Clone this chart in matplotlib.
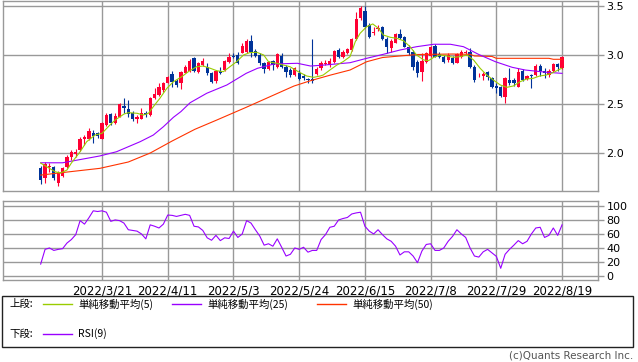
import matplotlib
matplotlib.use('Agg')
import matplotlib.pyplot as plt
from matplotlib.patches import Rectangle

# daily candles (index 0..119)
opens = [1.845, 1.737, 1.85, 1.849, 1.685, 1.76, 1.856, 1.952, 1.985, 2.027,
         2.137, 2.139, 2.201, 2.201, 2.139, 2.283, 2.395, 2.30, 2.368, 2.477,
         2.447, 2.409, 2.347, 2.344, 2.403, 2.385, 2.556, 2.59, 2.641, 2.716,
         2.805, 2.734, 2.71, 2.819, 2.836, 2.966, 2.829, 2.897, 2.88, 2.819,
         2.734, 2.836, 2.846, 2.928, 2.99, 3.0, 3.024, 3.034, 3.146, 3.044,
         3.0, 2.921, 2.856, 2.939, 2.88, 2.99, 2.88, 2.846, 2.795, 2.819,
         2.785, 2.751, 2.751, 2.805, 2.864, 2.912, 2.897, 2.931, 3.051, 2.983,
         3.024, 3.051, 3.164, 3.376, 3.451, 3.307, 3.222, 3.263, 3.29, 3.161,
         3.075, 3.126, 3.212, 3.187, 3.085, 3.034, 2.931, 2.823, 2.931, 2.99,
         3.095, 3.007, 2.983, 2.949, 2.966, 2.921, 2.983, 3.017, 3.034, 2.88,
         2.79, 2.788, 2.823, 2.761, 2.683, 2.669, 2.573, 2.744, 2.744, 2.675,
         2.839, 2.751, 2.79, 2.795, 2.887, 2.836, 2.795, 2.836, 2.905, 2.864]
highs = [1.866, 1.907, 1.893, 1.866, 1.811, 1.856, 1.975, 2.027, 2.034, 2.157,
         2.18, 2.252, 2.232, 2.211, 2.317, 2.403, 2.409, 2.406, 2.511, 2.556,
         2.539, 2.429, 2.385, 2.454, 2.429, 2.567, 2.659, 2.71, 2.726, 2.785,
         2.839, 2.751, 2.839, 2.897, 2.956, 2.983, 2.931, 2.966, 2.915, 2.829,
         2.846, 2.88, 2.949, 3.017, 3.017, 3.034, 3.12, 3.161, 3.205, 3.058,
         3.017, 2.931, 2.942, 2.949, 3.017, 3.024, 2.897, 2.864, 2.88, 2.846,
         2.805, 2.767, 3.161, 2.88, 2.939, 2.949, 2.966, 3.051, 3.075, 3.051,
         3.075, 3.171, 3.444, 3.502, 3.502, 3.325, 3.29, 3.307, 3.297, 3.181,
         3.161, 3.229, 3.263, 3.195, 3.102, 3.051, 2.949, 3.017, 3.034, 3.092,
         3.11, 3.034, 3.0, 3.017, 2.99, 3.017, 3.051, 3.051, 3.075, 2.897,
         2.812, 2.829, 2.836, 2.778, 2.71, 2.683, 2.778, 2.864, 2.761, 2.864,
         2.853, 2.795, 2.805, 2.908, 2.908, 2.864, 2.853, 2.921, 2.921, 2.99]
lows = [1.675, 1.691, 1.801, 1.72, 1.661, 1.75, 1.839, 1.924, 1.958, 2.02,
        2.078, 2.129, 2.101, 2.15, 2.136, 2.276, 2.288, 2.293, 2.362, 2.403,
        2.368, 2.327, 2.306, 2.341, 2.368, 2.378, 2.549, 2.583, 2.624, 2.71,
        2.675, 2.669, 2.649, 2.812, 2.829, 2.829, 2.819, 2.887, 2.795, 2.716,
        2.71, 2.805, 2.836, 2.915, 2.966, 2.908, 3.017, 3.024, 2.983, 2.983,
        2.897, 2.812, 2.846, 2.846, 2.864, 2.87, 2.772, 2.778, 2.785, 2.744,
        2.744, 2.716, 2.71, 2.795, 2.846, 2.897, 2.88, 2.915, 2.966, 2.972,
        3.007, 3.044, 3.154, 3.359, 3.273, 3.177, 3.205, 3.249, 3.154, 3.017,
        3.034, 3.12, 3.161, 3.079, 3.0, 2.846, 2.778, 2.737, 2.921, 2.983,
        2.976, 2.966, 2.915, 2.931, 2.908, 2.915, 2.966, 3.0, 2.864, 2.726,
        2.772, 2.744, 2.744, 2.659, 2.614, 2.573, 2.511, 2.693, 2.683, 2.669,
        2.737, 2.744, 2.659, 2.788, 2.785, 2.761, 2.778, 2.829, 2.836, 2.856]
closes = [1.719, 1.883, 1.86, 1.737, 1.794, 1.839, 1.952, 2.003, 2.009, 2.139,
          2.157, 2.221, 2.17, 2.175, 2.306, 2.385, 2.30, 2.378, 2.495, 2.462,
          2.395, 2.344, 2.368, 2.403, 2.385, 2.563, 2.60, 2.675, 2.71, 2.778,
          2.726, 2.693, 2.829, 2.88, 2.939, 2.839, 2.915, 2.939, 2.812, 2.726,
          2.836, 2.819, 2.939, 2.983, 2.98, 2.915, 3.095, 3.146, 3.034, 2.99,
          2.921, 2.856, 2.931, 2.897, 3.007, 2.88, 2.829, 2.795, 2.87, 2.751,
          2.761, 2.744, 2.737, 2.856, 2.915, 2.921, 2.939, 3.041, 2.983, 3.034,
          3.058, 3.161, 3.369, 3.478, 3.29, 3.187, 3.239, 3.28, 3.161, 3.085,
          3.143, 3.212, 3.171, 3.085, 3.017, 2.88, 2.812, 2.939, 3.024, 3.085,
          2.983, 2.983, 2.931, 3.0, 2.921, 3.007, 3.034, 3.03, 2.88, 2.744,
          2.80, 2.805, 2.772, 2.669, 2.659, 2.58, 2.761, 2.71, 2.71, 2.829,
          2.744, 2.785, 2.78, 2.887, 2.839, 2.812, 2.839, 2.905, 2.88, 2.976]

# moving averages (index, value)
ma5_x = [0, 2, 3.3, 4.5, 6, 7, 9, 10.5, 12.4, 14, 15.8, 17, 19, 20, 22, 23.4, 24.6,
         25.7, 27.2, 28.8, 30.3, 32.2, 33.7, 35.6, 37.1, 38.7, 40.2, 41.7, 43.2,
         44.7, 46.3, 47.7, 49.3, 50.9, 52, 53.9, 55.4, 56.9, 58.8, 60.7, 62.3,
         63.8, 64.5, 66, 67.6, 69, 70.6, 71.8, 72.9, 74.4, 75.8, 77.1, 78.2,
         79.8, 81.3, 82.8, 84.3, 85.8, 87.4, 88.5, 89.7, 91.2, 92.7, 94.2, 95.7,
         97.3, 98.8, 100.3, 101.8, 103.3, 104.9, 106.4, 107.9, 109.4, 110.9,
         112.4, 113.9, 115.4, 116.9, 118.9]
ma5_v = [1.893, 1.839, 1.804, 1.791, 1.822, 1.893, 2.009, 2.112, 2.18, 2.198, 2.283,
         2.334, 2.395, 2.409, 2.403, 2.385, 2.403, 2.47, 2.556, 2.659, 2.726, 2.778,
         2.829, 2.88, 2.887, 2.864, 2.839, 2.829, 2.88, 2.931, 3.0, 3.024, 3.028,
         3.0, 2.931, 2.915, 2.897, 2.88, 2.829, 2.785, 2.771, 2.785, 2.795, 2.846,
         2.897, 2.931, 2.983, 3.136, 3.222, 3.29, 3.318, 3.273, 3.205, 3.181,
         3.171, 3.146, 3.085, 3.0, 2.949, 2.942, 2.976, 3.0, 2.99, 2.976, 2.983,
         3.0, 2.949, 2.864, 2.795, 2.744, 2.693, 2.669, 2.683, 2.726, 2.754,
         2.761, 2.785, 2.795, 2.819, 2.864]
ma25_x = [0, 5, 13.5, 17.3, 22.7, 25.7, 28, 30.3, 32, 34.1, 37.9, 42.5, 46.9, 49.5,
          53.3, 58.6, 61.6, 64.7, 70.6, 74.4, 78.2, 82, 85.8, 89.7, 93.5, 96.5,
          100, 103.8, 107.6, 110.6, 115.5, 119]
ma25_v = [1.896, 1.896, 1.966, 2.009, 2.112, 2.18, 2.265, 2.362, 2.42, 2.511,
          2.608, 2.693, 2.812, 2.864, 2.908, 2.915, 2.887, 2.897, 2.921, 2.966,
          3.007, 3.051, 3.085, 3.11, 3.11, 3.085, 3.005, 2.931, 2.874, 2.846,
          2.823, 2.812]
ma50_x = [0, 6, 13.5, 20, 25, 30, 35.2, 40.2, 46.9, 51, 57.8, 61.6, 66.2, 70.6,
          74.4, 78, 82, 86, 94, 98, 99, 103, 104, 116, 117, 119]
ma50_v = [1.77, 1.801, 1.839, 1.904, 1.996, 2.119, 2.239, 2.334, 2.464, 2.546,
          2.682, 2.737, 2.795, 2.846, 2.931, 2.974, 2.99, 3.005, 3.01, 3.007,
          2.99, 2.985, 2.966, 2.966, 2.956, 2.956]

rsi = [17, 38, 40, 36.5, 38, 39, 47, 52, 59, 79,
       74, 83, 93, 92, 93, 91, 78, 80, 79, 75.5,
       66, 65, 64, 60, 53, 73, 71, 68.5, 74, 87,
       86.5, 85, 86.5, 88, 86.5, 71, 70, 65, 54.5, 51,
       58, 50.5, 54.5, 53.5, 64, 55, 60, 79, 75.5, 66,
       57, 44, 46, 42.5, 53, 41, 28.5, 31, 40, 38,
       41, 34, 36.5, 36.5, 52, 59, 69.5, 71, 80, 82,
       83.5, 88.5, 90, 91, 71, 64, 60, 66, 59, 53,
       49.5, 42.5, 30, 34.5, 34.5, 28.5, 19, 35.5, 45, 46,
       36.5, 36.5, 40, 49.5, 56.5, 66, 60, 55, 40, 28.5,
       27, 34.5, 38, 33, 28, 11, 31, 38, 44, 50.5,
       46, 49.5, 60, 68.5, 69.5, 55, 58, 68.5, 58, 73]

date_pos = [14, 29, 44, 59, 74, 89, 104, 119]
date_labels = ['2022/3/21', '2022/4/11', '2022/5/3', '2022/5/24',
               '2022/6/15', '2022/7/8', '2022/7/29', '2022/8/19']

UP, DOWN = '#ff0033', '#003399'
GRID = '#999999'
W, H = 638, 362

fig = plt.figure(figsize=(W / 100, H / 100), dpi=100)
ax = fig.add_axes([3 / W, 1 - 191 / H, 595 / W, 190 / H])
rx = fig.add_axes([3 / W, 1 - 280 / H, 595 / W, 79 / H])

for a in (ax, rx):
    for s in a.spines.values():
        s.set_color(GRID)
        s.set_linewidth(1)
    a.set_xlim(-8.6, 127.2)
    a.set_xticks(date_pos)
    a.grid(True, color=GRID, linewidth=1)
    a.set_axisbelow(True)
    a.yaxis.tick_right()
    a.tick_params(axis='y', length=4, width=1, color=GRID, pad=2, labelsize=8)
    a.tick_params(axis='x', length=0)

# candles
for i in range(len(closes)):
    o, h, l, c = opens[i], highs[i], lows[i], closes[i]
    col = UP if c >= o else DOWN
    ax.vlines(i, l, h, color=col, linewidth=0.8, zorder=2)
    ax.bar(i, max(abs(c - o), 0.008), bottom=min(o, c), width=0.75,
           color=col, linewidth=0, zorder=3)

ax.plot(ma50_x, ma50_v, color='#ff3300', linewidth=0.8, zorder=4)
ax.plot(ma25_x, ma25_v, color='#9900ff', linewidth=0.8, zorder=4)
ax.plot(ma5_x, ma5_v, color='#99cc00', linewidth=0.8, zorder=5)

ax.set_ylim(1.607, 3.553)
ax.set_yticks([2.0, 2.5, 3.0, 3.5])
ax.set_yticklabels(['2.0', '2.5', '3.0', '3.5'])
ax.set_xticklabels([])

rx.plot(range(len(rsi)), rsi, color='#9900ff', linewidth=0.8)
rx.set_ylim(-5.7, 107)
rx.set_yticks([0, 20, 40, 60, 80, 100])
rx.set_xticklabels(date_labels, fontsize=8.5)
rx.tick_params(axis='x', pad=3)

# legend box
fig.patches.append(Rectangle((2 / W, 1 - 347 / H), 631 / W, 51 / H,
                             transform=fig.transFigure, fill=False,
                             edgecolor='#222222', linewidth=1))
jp = ['Noto Sans CJK JP', 'DejaVu Sans']
fs = 7.5
fig.text(9 / W, 1 - 304 / H, '上段:', family=jp, fontsize=fs, va='center')
fig.text(9 / W, 1 - 334 / H, '下段:', family=jp, fontsize=fs, va='center')
legend_items = [(43, 304, '#99cc00', '単純移動平均(5)'),
                (172, 304, '#9900ff', '単純移動平均(25)'),
                (317, 304, '#ff3300', '単純移動平均(50)'),
                (43, 334, '#9900ff', 'RSI(9)')]
for x0, y0, col, label in legend_items:
    fig.add_artist(plt.Line2D([x0 / W, (x0 + 29) / W], [1 - y0 / H, 1 - y0 / H],
                              color=col, linewidth=1, transform=fig.transFigure))
    fig.text((x0 + 35) / W, 1 - y0 / H, label, family=jp, fontsize=fs, va='center')

fig.text(633 / W, 1 - 356 / H, '(c)Quants Research Inc.', fontsize=7.5,
         color='#555555', ha='right', va='center')

fig.savefig('out.png', dpi=100)
